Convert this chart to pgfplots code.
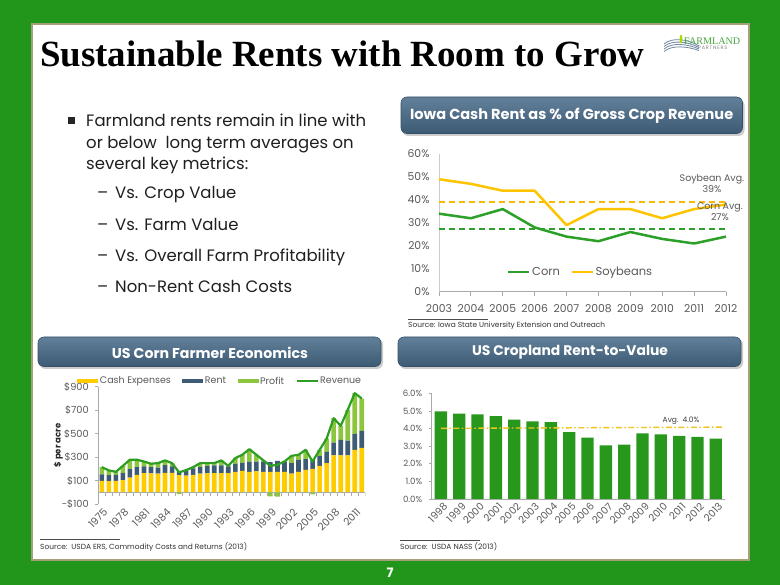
\documentclass[border=0pt]{standalone}
\usepackage{pgfplots}
\pgfplotsset{compat=1.18}
\usepackage{pgfplotstable}
\usepackage{graphicx}
\usepackage{fontspec}
\setmainfont{Poppins}
\newfontfamily\titlefont{Liberation Serif}
\usetikzlibrary{shadings}
\newcommand{\fs}[1]{\fontsize{#1}{#1}\selectfont}
\definecolor{bg}{RGB}{34,150,26}
\definecolor{khaki}{RGB}{165,160,120}
\definecolor{hdrtop}{RGB}{98,128,154}
\definecolor{hdrbot}{RGB}{60,90,116}
\definecolor{hdrdraw}{RGB}{52,80,104}
\definecolor{cornc}{RGB}{44,160,40}
\definecolor{soyc}{RGB}{255,196,0}
\definecolor{soydash}{RGB}{250,185,0}
\definecolor{cashc}{RGB}{255,204,0}
\definecolor{rentc}{RGB}{62,91,117}
\definecolor{profc}{RGB}{140,198,63}
\definecolor{revc}{RGB}{46,158,34}
\definecolor{barc}{RGB}{40,152,28}
\definecolor{avgc}{RGB}{240,196,30}
\definecolor{tickc}{RGB}{89,89,89}
\definecolor{axisgray}{RGB}{170,170,170}
\definecolor{logogreen}{RGB}{70,165,60}
\definecolor{swoosh}{RGB}{110,135,160}

\pgfplotstableread{
year cash rent profit loss revenue
1975 100 54 62 0 216
1976 97 51 40 0 188
1977 100 50 26 0 176
1978 106 62 59 0 227
1979 126 73 80 0 279
1980 151 65 63 0 279
1981 165 57 42 0 264
1982 162 54 29 0 245
1983 160 51 39 0 250
1984 168 65 40 0 273
1985 168 54 28 0 250
1986 148 37 0 -14 171
1987 143 45 3 0 191
1988 151 54 11 0 216
1989 160 59 31 0 250
1990 162 65 23 0 250
1991 165 65 20 0 250
1992 165 65 43 0 273
1993 165 57 5 0 227
1994 176 69 48 0 293
1995 185 68 68 0 321
1996 176 86 107 0 369
1997 179 83 59 0 321
1998 176 86 11 0 273
1999 176 83 0 -32 227
2000 176 94 0 -34 236
2001 176 86 2 0 264
2002 160 90 62 0 312
2003 176 102 43 0 321
2004 193 92 78 0 363
2005 201 78 0 -15 264
2006 227 85 51 0 363
2007 250 96 113 0 459
2008 315 110 207 0 632
2009 315 133 119 0 567
2010 315 127 261 0 703
2011 363 136 346 0 845
2012 380 145 274 0 799
}\corndata

\pgfplotstableread{
year corn soy
2003 34 49
2004 32 47
2005 36 44
2006 28 44
2007 24 29
2008 22 36
2009 26 36
2010 23 32
2011 21 36
2012 24 38
}\iowadata

\pgfplotstableread{
year ratio
1998 4.98
1999 4.85
2000 4.81
2001 4.71
2002 4.50
2003 4.41
2004 4.37
2005 3.80
2006 3.48
2007 3.05
2008 3.09
2009 3.73
2010 3.67
2011 3.58
2012 3.52
2013 3.43
}\rtvdata

\begin{document}
\begin{tikzpicture}[x=1pt,y=-1pt]
% slide background
\fill[bg] (0,0) rectangle (780,585);
\fill[white] (32,24) rectangle (749,560);
\draw[khaki, line width=2pt] (32,24) rectangle (749,560);

% title
\node[anchor=base west, inner sep=0pt] at (40,66.5) {\resizebox{604pt}{!}{\titlefont\bfseries Sustainable Rents with Room to Grow}};

% logo
\foreach \d in {0,2.5,5,7.5} {
  \draw[swoosh, line width=0.8pt] (664,44+\d) .. controls (672,37+\d) and (688,39+\d) .. (699,46+\d*0.6);
}
\fill[soyc!70!green] (681,39) ellipse (1.4 and 4.5);
\node[anchor=base west, inner sep=0pt, text=logogreen] at (684,45) {\resizebox{56pt}{!}{\titlefont FARMLAND}};
\node[anchor=base west, inner sep=0pt, text=gray] at (698,49.5) {\resizebox{29pt}{!}{\fs{4}P\,A\,R\,T\,N\,E\,R\,S}};

% bullets
\fill[black!85] (68,117.5) rectangle (75,124.5);
\begin{scope}[every node/.style={anchor=base west, inner sep=0pt, font=\fs{16.5}, text=black!88}]
\node at (86,127) {Farmland rents remain in line with};
\node at (86,148.5) {or below\ \ long term averages on};
\node at (86,170) {several key metrics:};
\node at (97,199) {\textendash};
\node at (115,199) {Vs. Crop Value};
\node at (97,231) {\textendash};
\node at (115,231) {Vs. Farm Value};
\node at (97,261.5) {\textendash};
\node at (115,261.5) {Vs. Overall Farm Profitability};
\node at (97,293) {\textendash};
\node at (115,293) {Non-Rent Cash Costs};
\end{scope}

% header boxes
\fill[gray!40, rounded corners=6pt] (402.5,99.5) rectangle (744.5,136);
\shadedraw[top color=hdrtop, bottom color=hdrbot, draw=hdrdraw, line width=0.6pt, rounded corners=6pt] (401,97) rectangle (742.5,133.5);
\node[text=white, inner sep=0pt] at (571.7,116) {\resizebox{323pt}{!}{\bfseries Iowa Cash Rent as \% of Gross Crop Revenue}};

\fill[gray!40, rounded corners=6pt] (39.5,339) rectangle (383,369);
\shadedraw[top color=hdrtop, bottom color=hdrbot, draw=hdrdraw, line width=0.6pt, rounded corners=6pt] (38,337) rectangle (381,366.5);
\node[text=white, inner sep=0pt] at (210,352.5) {\resizebox{196pt}{!}{\bfseries US Corn Farmer Economics}};

\fill[gray!40, rounded corners=6pt] (399.5,339) rectangle (743,369);
\shadedraw[top color=hdrtop, bottom color=hdrbot, draw=hdrdraw, line width=0.6pt, rounded corners=6pt] (398,337) rectangle (741,366.5);
\node[text=white, inner sep=0pt] at (570,352.5) {\resizebox{196pt}{!}{\bfseries US Cropland Rent-to-Value}};

% ---------- Iowa chart ----------
\begin{axis}[
  at={(439pt,-291.7pt)}, anchor=south west,
  scale only axis, width=287pt, height=137.7pt,
  xmin=2003, xmax=2012, ymin=0, ymax=60,
  axis lines=left, axis line style={-},
  x axis line style={draw=axisgray, line width=0.8pt},
  y axis line style={draw=axisgray!60, line width=0.8pt},
  xtick={2003,...,2012}, ytick={0,10,...,60},
  tick align=outside, major tick length=4pt,
  xtick style={draw=axisgray, line width=0.8pt}, ytick style={draw=none},
  /pgf/number format/assume math mode=true,
  /pgf/number format/1000 sep={},
  tick label style={font=\fs{10.8}, text=tickc},
  xticklabel style={yshift=-5pt},
  yticklabel style={xshift=-2pt},
  yticklabel={\pgfmathprintnumber{\tick}\%},
  clip=false,
  legend image code/.code={\draw[#1] (0pt,0pt) -- (21pt,0pt);},
  legend style={at={(0.237,0.143)}, anchor=west, draw=none, fill=none, inner sep=0pt,
    legend columns=2, font=\fs{11.5}, text=tickc,
    /tikz/every even column/.append style={column sep=9pt}, nodes={inner sep=1.5pt}},
]
\addplot[draw=soydash, line width=2pt, dash pattern=on 6pt off 4pt, forget plot] coordinates {(2003,39.3) (2012,39.3)};
\addplot[draw=cornc, line width=2pt, dash pattern=on 6pt off 4pt, forget plot] coordinates {(2003,27.2) (2012,27.2)};
\addplot[cornc, line width=2.5pt, line join=round] table[x=year,y=corn]{\iowadata};
\addlegendentry{Corn}
\addplot[soyc, line width=2.5pt, line join=round] table[x=year,y=soy]{\iowadata};
\addlegendentry{Soybeans}
\node[font=\fontsize{9.5}{11}\selectfont, text=tickc, align=center] at (axis cs:2011.56,47.1) {Soybean Avg.\\39\%};
\node[font=\fontsize{9.5}{11}\selectfont, text=tickc, align=center] at (axis cs:2011.81,34.7) {Corn Avg.\\27\%};
\end{axis}
\draw[black!70, line width=0.5pt] (408,319) -- (488,319);
\node[anchor=base west, inner sep=0pt, text=black!80] at (408,328) {\resizebox{197pt}{!}{Source: Iowa State University Extension and Outreach}};

% ---------- US Corn Farmer Economics ----------
\begin{axis}[
  at={(98.3pt,-504.3pt)}, anchor=south west,
  scale only axis, width=267pt, height=117.6pt,
  xmin=1974.5, xmax=2012.5, ymin=-100, ymax=900,
  ybar stacked, bar width=4.6pt,
  axis lines=left, axis line style={-},
  x axis line style={draw=none},
  y axis line style={draw=axisgray, line width=0.6pt},
  xtick={1975,1978,...,2011}, xtick style={draw=none},
  ytick={-100,100,300,500,700,900},
  yticklabels={{-\$100},{\$100},{\$300},{\$500},{\$700},{\$900}},
  tick align=outside, major tick length=3pt,
  ytick style={draw=axisgray, line width=0.6pt},
  /pgf/number format/assume math mode=true,
  /pgf/number format/1000 sep={},
  tick label style={font=\fs{9.8}, text=tickc},
  xticklabel style={font=\fs{10.3}, rotate=45, anchor=north east, inner sep=1pt, xshift=1.5pt},
  yticklabel style={xshift=-3pt},
  legend style={at={(-0.0787,1.047)}, anchor=west, draw=none, fill=none, inner sep=0pt,
    legend columns=4, font=\fs{9.5}, text=tickc,
    /tikz/every even column/.append style={column sep=10pt}, nodes={inner sep=1.5pt}},
]
\draw[axisgray, line width=0.6pt] (axis cs:1974.5,0) -- (axis cs:2012.5,0);
\pgfplotsinvokeforeach{0,...,38}{\draw[axisgray, line width=0.5pt] (axis cs:{1974.5+#1},0) -- ++(0pt,-3pt);}
\addplot[fill=cashc, draw=none, legend image code/.code={\fill[cashc] (0pt,-2.3pt) rectangle (21pt,2.3pt);}] table[x=year,y=cash]{\corndata};
\addlegendentry{Cash Expenses}
\addplot[fill=rentc, draw=none, legend image code/.code={\fill[rentc] (0pt,-2.3pt) rectangle (21pt,2.3pt);}] table[x=year,y=rent]{\corndata};
\addlegendentry{Rent}
\addplot[fill=profc, draw=none, legend image code/.code={\fill[profc] (0pt,-2.3pt) rectangle (21pt,2.3pt);}] table[x=year,y=profit]{\corndata};
\addlegendentry{Profit}
\addlegendimage{legend image code/.code={\draw[revc, line width=2pt] (0pt,0pt) -- (21pt,0pt);}}
\addlegendentry{Revenue}
\end{axis}
\begin{axis}[
  at={(98.3pt,-504.3pt)}, anchor=south west,
  scale only axis, width=267pt, height=117.6pt,
  xmin=1974.5, xmax=2012.5, ymin=-100, ymax=900,
  hide axis,
]
\addplot[ybar, bar width=4.6pt, fill=profc, draw=none] table[x=year,y=loss]{\corndata};
\addplot[revc, line width=2.2pt, line join=round, mark=none] table[x=year,y=revenue]{\corndata};
\end{axis}
\node[rotate=90, font=\bfseries\fs{8.5}, text=black!85] at (58.3,445.5) {\$ per acre};
\draw[black!70, line width=0.5pt] (40,539.3) -- (120,539.3);
\node[anchor=base west, inner sep=0pt, text=black!80] at (40,549.5) {\resizebox{207pt}{!}{Source:\ \ USDA ERS, Commodity Costs and Returns (2013)}};

% ---------- US Cropland Rent-to-Value ----------
\begin{axis}[
  at={(431.7pt,-499pt)}, anchor=south west,
  scale only axis, width=293.3pt, height=105.7pt,
  xmin=1997.5, xmax=2013.5, ymin=0, ymax=6,
  axis lines=left, axis line style={-},
  x axis line style={draw=axisgray, line width=0.6pt},
  y axis line style={draw=axisgray, line width=0.6pt},
  xtick={1998,...,2013}, ytick={0,1,...,6},
  xtick style={draw=none},
  tick align=outside, major tick length=3pt,
  ytick style={draw=axisgray, line width=0.6pt},
  /pgf/number format/assume math mode=true,
  /pgf/number format/1000 sep={},
  tick label style={font=\fs{8.6}, text=tickc},
  xticklabel style={font=\fs{10}, rotate=45, anchor=north east, inner sep=1.5pt, xshift=3pt},
  yticklabel style={xshift=-3pt},
  yticklabel={\pgfmathprintnumber[fixed,fixed zerofill,precision=1]{\tick}\%},
  clip=false,
]
\addplot[ybar, bar width=12.3pt, fill=barc, draw=none] table[x=year,y=ratio]{\rtvdata};
\addplot[avgc, line width=1.4pt, dash pattern=on 6pt off 2.5pt on 1.5pt off 2.5pt] coordinates {(1998,4.01) (2013.4,4.08)};
\node[font=\fs{7.5}, text=black!75] at (axis cs:2011.1,4.44) {Avg.\ \ 4.0\%};
\end{axis}
\draw[black!70, line width=0.5pt] (400,540.7) -- (480,540.7);
\node[anchor=base west, inner sep=0pt, text=black!80] at (400,549.5) {\resizebox{97pt}{!}{Source:\ \ USDA NASS (2013)}};

% page number
\node[text=white, font=\bfseries\fs{13}] at (390,573) {7};

\pgfresetboundingbox
\path[use as bounding box] (0,0) rectangle (780,585);
\end{tikzpicture}
\end{document}
